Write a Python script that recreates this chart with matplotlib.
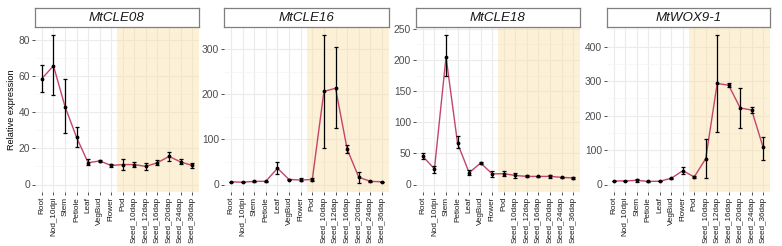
import matplotlib
matplotlib.use("Agg")
import matplotlib.pyplot as plt
import numpy as np

categories = ["Root", "Nod_10dpi", "Stem", "Petiole", "Leaf", "VegBud", "Flower", "Pod",
              "Seed_10dap", "Seed_12dap", "Seed_16dap", "Seed_20dap", "Seed_24dap", "Seed_36dap"]

genes = ["MtCLE08", "MtCLE16", "MtCLE18", "MtWOX9-1"]

cle08_mean = [58.5, 65.5, 43, 26, 12, 13, 10.5, 11, 11, 10, 12, 15.5, 12.5, 10.5]
cle08_lo = [51, 49.4, 28.6, 20.9, 10.5, 12.3, 9.8, 8, 9.5, 8, 11, 13, 11.5, 9]
cle08_hi = [66, 82.8, 58.2, 31.6, 14, 13.7, 11.2, 14, 12.5, 12, 13.5, 18, 14, 12]

cle16_mean = [6, 5, 7, 7, 36, 11, 10, 11, 206, 213, 78, 16, 7, 6]
cle16_lo = [5.5, 4.5, 6, 6, 24, 9, 7, 7, 81, 124, 70, 4, 6, 5.5]
cle16_hi = [6.5, 5.5, 8, 8, 50, 13, 14, 15, 332, 304, 88, 28, 8, 6.5]

cle18_mean = [45, 25, 205, 66, 19, 34.5, 17, 17.5, 14.5, 13, 13, 13, 11.5, 10.5]
cle18_lo = [41, 18, 175, 59, 15.5, 33, 12, 14, 11, 11.5, 12, 10.5, 10.5, 8.5]
cle18_hi = [50, 30, 241, 78.5, 23, 36, 22, 21, 18, 15, 14, 16, 12.5, 12.5]

wox9_mean = [10, 10.5, 12, 9, 9.5, 18, 40, 22, 75, 293, 288, 222, 216, 108]
wox9_lo = [9, 9.5, 8, 8.5, 9, 16, 31, 19, 20, 153, 282, 163, 208, 72]
wox9_hi = [11, 11.5, 16, 9.5, 10, 20, 50, 26, 131, 435, 294, 281, 224, 137]

yticks_list = [[0, 20, 40, 60, 80], [0, 100, 200, 300], [0, 50, 100, 150, 200, 250], [0, 100, 200, 300, 400]]

series = [(cle08_mean, cle08_lo, cle08_hi), (cle16_mean, cle16_lo, cle16_hi),
          (cle18_mean, cle18_lo, cle18_hi), (wox9_mean, wox9_lo, wox9_hi)]

plt.rcParams['font.family'] = ['Liberation Sans', 'DejaVu Sans']

W, H = 782, 246
fig = plt.figure(figsize=(W / 100, H / 100), dpi=100)

panel_x = [(35, 199), (224, 389), (416, 580), (607, 770)]
ptop, pbot = 27, 192
strip_top = 8

line_color = "#C4446A"
grid_col = "#EBEBEB"
text_col = "#4D4D4D"

x = np.arange(len(categories))
for i, (gene, (m, lo, hi), yt) in enumerate(zip(genes, series, yticks_list)):
    x0, x1 = panel_x[i]
    ax = fig.add_axes([x0 / W, 1 - pbot / H, (x1 - x0) / W, (pbot - ptop) / H])
    m = np.array(m); lo = np.array(lo); hi = np.array(hi)
    ymax = hi.max()
    ax.set_xlim(-0.6, len(categories) - 0.4)
    ax.set_ylim(-0.05 * ymax, ymax * 1.05)
    # grid
    for xv in x:
        ax.axvline(xv, color=grid_col, lw=0.8, zorder=0)
    for yv in yt:
        ax.axhline(yv, color=grid_col, lw=0.8, zorder=0)
    step = yt[1] - yt[0]
    for yv in np.arange(yt[0] + step / 2, ymax * 1.05, step):
        ax.axhline(yv, color="#F4F4F4", lw=0.5, zorder=0)
    ax.axvspan(6.5, len(categories) - 0.4, facecolor="#F9DFA8", alpha=0.45, lw=0, zorder=1)
    ax.plot(x, m, color=line_color, lw=1.0, zorder=3)
    ax.errorbar(x, m, yerr=[m - lo, hi - m], fmt='none', ecolor='black', elinewidth=0.9,
                capsize=1.5, capthick=0.9, zorder=4)
    ax.scatter(x, m, s=3, color='black', zorder=5)
    for s in ax.spines.values():
        s.set_visible(False)
    ax.set_yticks(yt)
    ax.set_yticklabels([str(v) for v in yt], fontsize=7.4, color=text_col)
    ax.set_xticks(x)
    ax.set_xticklabels(categories, rotation=90, fontsize=5.9, color="#1A1A1A")
    ax.tick_params(axis='both', length=2, width=0.6, color="#333333", pad=1.5)
    if i == 0:
        ax.set_ylabel("Relative expression", fontsize=6.6, labelpad=2)
    # strip
    sax = fig.add_axes([x0 / W, 1 - ptop / H, (x1 - x0) / W, (ptop - strip_top) / H])
    sax.set_xticks([]); sax.set_yticks([])
    sax.set_facecolor("white")
    for s in sax.spines.values():
        s.set_color("#7F7F7F"); s.set_linewidth(0.9)
    sax.text(0.5, 0.45, gene, transform=sax.transAxes, ha='center', va='center',
             fontsize=9.6, style='italic', color="#1A1A1A")

fig.savefig("out.png", dpi=100)
